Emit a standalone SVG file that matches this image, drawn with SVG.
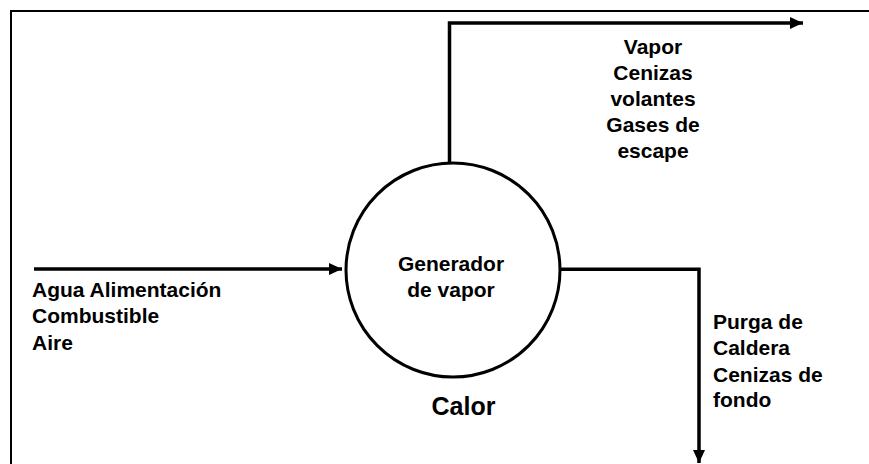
<svg xmlns="http://www.w3.org/2000/svg" width="869" height="464" viewBox="0 0 869 464">
<style>
.t{font-family:"Liberation Sans",Arial,sans-serif;font-weight:bold;font-size:21px;fill:#000}
.c{stroke:#000;stroke-width:3.5;fill:none}
</style>
<defs>
<marker id="ah" viewBox="0 0 13 12" refX="13" refY="6" markerWidth="13" markerHeight="12" orient="auto" markerUnits="userSpaceOnUse">
<path d="M0,0 L13,6 L0,12 z" fill="#000"/>
</marker>
</defs>
<rect x="0" y="0" width="869" height="464" fill="#fff"/>
<path d="M11,464 V11 H869" fill="none" stroke="#000" stroke-width="2"/>
<g id="connectors">
<path class="c" d="M34,269 H342" marker-end="url(#ah)"/>
<path class="c" d="M449.5,163 V23 H803" marker-end="url(#ah)"/>
<path class="c" d="M561,269.3 H699 V463" marker-end="url(#ah)"/>
</g>
<g id="generador">
<circle cx="453" cy="270" r="107" fill="#fff" stroke="#000" stroke-width="3"/>
<text class="t" x="451" y="270.5" text-anchor="middle">Generador</text>
<text class="t" x="451" y="297" text-anchor="middle">de vapor</text>
</g>
<g id="entradas">
<text class="t" x="32" y="297">Agua Alimentación</text>
<text class="t" x="32" y="323">Combustible</text>
<text class="t" x="32" y="350">Aire</text>
</g>
<g id="salidas-superior">
<text class="t" x="653" y="54" text-anchor="middle">Vapor</text>
<text class="t" x="653" y="80" text-anchor="middle">Cenizas</text>
<text class="t" x="653" y="106" text-anchor="middle">volantes</text>
<text class="t" x="653" y="132" text-anchor="middle">Gases de</text>
<text class="t" x="653" y="158" text-anchor="middle">escape</text>
</g>
<g id="salidas-inferior">
<text class="t" x="713" y="329">Purga de</text>
<text class="t" x="713" y="355">Caldera</text>
<text class="t" x="713" y="381.5">Cenizas de</text>
<text class="t" x="713" y="406.5">fondo</text>
</g>
<g id="calor">
<text class="t" x="463.5" y="415" text-anchor="middle" style="font-size:25px">Calor</text>
</g>
</svg>
